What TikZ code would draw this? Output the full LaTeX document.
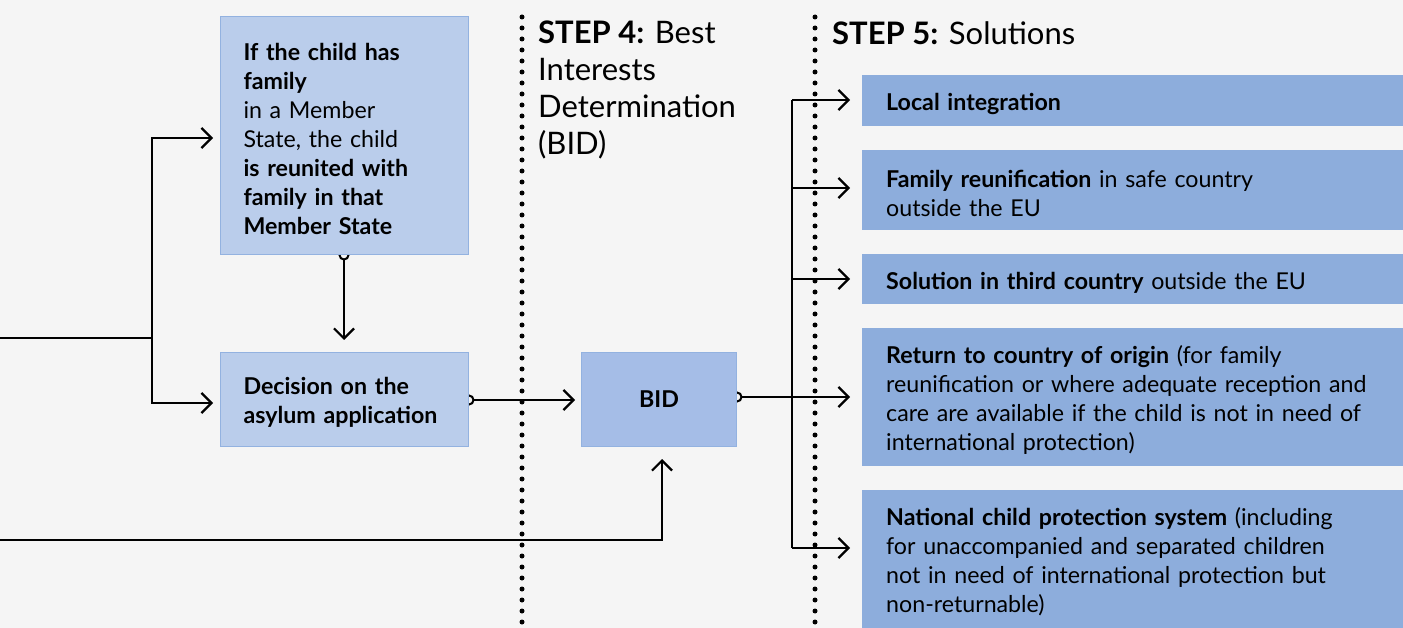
\documentclass[tikz,border=0pt]{standalone}
\usepackage{fontspec}
\setmainfont{Lato}
\usetikzlibrary{arrows.meta,positioning}

\definecolor{paper}{HTML}{F5F5F5}
\definecolor{stepfill}{HTML}{BACDEB}
\definecolor{stepedge}{HTML}{93B2E0}
\definecolor{bidfill}{HTML}{A5BDE7}
\definecolor{solfill}{HTML}{8DADDC}

\pgfdeclarelayer{paperlayer}
\pgfdeclarelayer{wires}
\pgfsetlayers{paperlayer,wires,main}

\newcommand\toppad{\rule{0pt}{23.5pt}}

\tikzset{
    body/.style={font=\fontsize{23.2}{29}\selectfont},
    head/.style={font=\fontsize{31}{37}\selectfont, anchor=north west, inner sep=0pt, align=left},
    stepbox/.style={body, draw=stepedge, line width=1pt, fill=stepfill, anchor=north west,
        inner xsep=23pt, inner ysep=0pt, align=left, execute at begin node=\toppad},
    solbox/.style={body, fill=solfill, anchor=north west, minimum width=541pt,
        text width=493pt, inner xsep=24pt, inner ysep=0pt, align=left, execute at begin node=\toppad},
    wire/.style={line width=2.2pt, -{Straight Barb[length=10pt,width=20pt,line width=2.2pt]}},
    tapped/.style={wire, {Circle[open,length=11pt,width=11pt,line width=2pt]}-{Straight Barb[length=10pt,width=20pt,line width=2.2pt]}, shorten <=-5.5pt},
    dots/.style={line width=5pt, line cap=round, dash pattern=on 0pt off 11pt}
}

\begin{document}
\begin{tikzpicture}[x=1pt, y=-1pt]
    \begin{pgfonlayer}{paperlayer}
        \fill[paper] (0,0) rectangle (1403,628);
    \end{pgfonlayer}
    \useasboundingbox (0,0) rectangle (1403,628);

    % step 3 boxes
    \node[stepbox, minimum width=248pt, minimum height=238pt, text width=202pt] (family) at (220,16)
        {\textbf{If the child has}\\ \textbf{family}\\ in a Member\\ State, the child\\
         \textbf{is reunited with}\\ \textbf{family in that}\\ \textbf{Member State}};
    \node[stepbox, minimum width=248pt, minimum height=94pt, text width=202pt] (decision) at (220,352)
        {\textbf{Decision on the}\\ \textbf{asylum application}};

    % step 4
    \node[body, draw=stepedge, line width=1pt, fill=bidfill, anchor=north west,
        minimum width=155pt, minimum height=94pt] (bid) at (581,352) {\textbf{BID}};
    \node[head] (h4) at (538,21) {\textbf{STEP 4:} Best\\ Interests\\ Determination\\ (BID)};

    % step 5
    \node[head] (h5) at (832,21) {\textbf{STEP 5:} Solutions};
    \node[solbox, minimum height=51pt] (s1) at (862,75) {\textbf{Local integration}};
    \node[solbox, minimum height=80pt] (s2) at (862,150)
        {\textbf{Family reunification} in safe country\\ outside the EU};
    \node[solbox, minimum height=50pt] (s3) at (862,254)
        {\textbf{Solution in third country} outside the EU};
    \node[solbox, minimum height=138pt] (s4) at (862,328)
        {\textbf{Return to country of origin} (for family\\ reunification or where adequate reception and\\
         care are available if the child is not in need of\\ international protection)};
    \node[solbox, minimum height=138pt] (s5) at (862,490)
        {\textbf{National child protection system} (including\\ for unaccompanied and separated children\\
         not in need of international protection but\\ non-returnable)};

    % connectors
    \coordinate (in1) at (0,338);
    \coordinate (in2) at (0,540);
    \coordinate (fork) at (152,338);
    \begin{pgfonlayer}{wires}
        \draw[line width=2.2pt] (in1) -- (fork);
        \draw[wire, shorten >=7pt] (fork) |- (family.west |- 0,138);
        \draw[wire, shorten >=7pt] (fork) |- (decision.west |- 0,403);
        \draw[tapped, shorten >=12pt] (family.south -| 344,0) -- (decision.north -| 344,0);
        \draw[tapped, shorten >=6pt] (decision.east |- 0,400) -- (bid.west |- 0,400);
        \draw[wire, shorten >=12pt] (in2) -| (bid.south -| 662,0);
        \draw[tapped, shorten >=12pt] (bid.east |- 0,397) -- (s4.west |- 0,397);
        \draw[line width=2.2pt] (792,100) -- (792,548);
        \draw[wire, shorten >=12pt] (792,100) -- (s1.west |- 0,100);
        \draw[wire, shorten >=12pt] (792,188) -- (s2.west |- 0,188);
        \draw[wire, shorten >=12pt] (792,279) -- (s3.west |- 0,279);
        \draw[wire, shorten >=12pt] (792,548) -- (s5.west |- 0,548);
    \end{pgfonlayer}

    % dotted step borders
    \draw[dots] (522,17) -- (522,628);
    \draw[dots] (815,17) -- (815,628);
\end{tikzpicture}
\end{document}
